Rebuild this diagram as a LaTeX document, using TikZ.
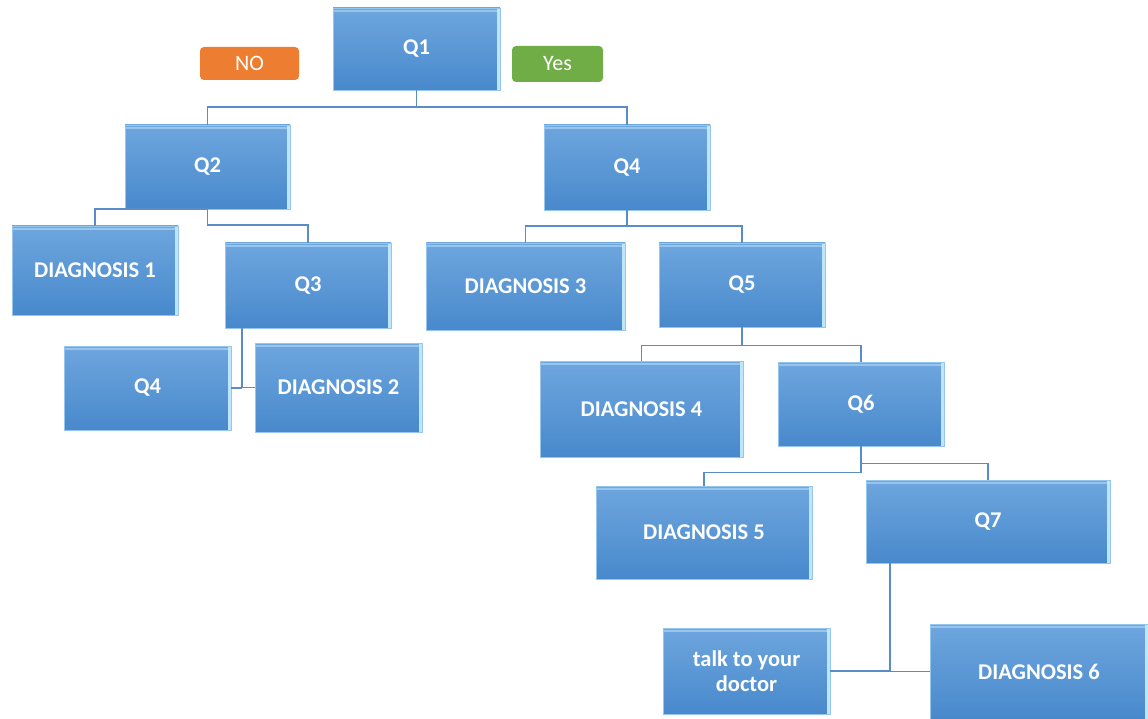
\documentclass[tikz,border=0pt]{standalone}
\usepackage{fontspec}
\setmainfont{Carlito}
\definecolor{boxtop}{RGB}{110,166,222}
\definecolor{boxbot}{RGB}{72,137,204}
\definecolor{boxedge}{RGB}{190,230,250}
\definecolor{boxline}{RGB}{150,198,238}
\definecolor{linkcol}{RGB}{88,141,200}
\definecolor{nocol}{RGB}{237,125,49}
\definecolor{yescol}{RGB}{112,173,71}
\begin{document}
\begin{tikzpicture}[x=1pt,y=-1pt,
  qbox/.style={rectangle,inner sep=0pt,top color=boxtop,bottom color=boxbot,
    draw=boxline,line width=0.6pt,text=white,
    font=\fontsize{22.5}{25}\selectfont\bfseries,align=center,
    path picture={
      \fill[boxedge] ([xshift=-3.5pt]path picture bounding box.north east) rectangle (path picture bounding box.south east);
      \draw[boxline,line width=1.6pt] ([yshift=-3pt]path picture bounding box.north west) -- ([yshift=-3pt,xshift=-3.5pt]path picture bounding box.north east);
    }},
  tag/.style={rectangle,rounded corners=4pt,inner sep=0pt,text=white,
    font=\fontsize{22}{24}\selectfont},
  link/.style={draw=linkcol,line width=1.6pt}]
\useasboundingbox (0,0) rectangle (1148,719);
% Drawing boxes
\node[qbox,minimum width=167pt,minimum height=82pt] (q1) at (416.5,49) {Q1};
\node[tag,fill=nocol,minimum width=99pt,minimum height=33pt] (no) at (249.5,63.5) {NO};
\node[tag,fill=yescol,minimum width=91pt,minimum height=36pt] (yes) at (557.5,64) {Yes};
% level 2
\node[qbox,minimum width=165pt,minimum height=84pt] (q2) at (207.5,167) {Q2};
\node[qbox,minimum width=166pt,minimum height=85pt] (q4b) at (627,167.5) {Q4};
% level 3
\node[qbox,minimum width=166pt,minimum height=89pt] (d1) at (95,270.5) {DIAGNOSIS 1};
\node[qbox,minimum width=166pt,minimum height=85pt] (q3) at (308,285.5) {Q3};
\node[qbox,minimum width=199pt,minimum height=87pt] (d3) at (525.5,286.5) {DIAGNOSIS 3};
\node[qbox,minimum width=166pt,minimum height=84pt] (q5) at (742,285) {Q5};
% level 4
\node[qbox,minimum width=167pt,minimum height=84pt] (q4a) at (147.5,388) {Q4};
\node[qbox,minimum width=167pt,minimum height=89pt] (d2) at (338.5,387.5) {DIAGNOSIS 2};
\node[qbox,minimum width=203pt,minimum height=96pt] (d4) at (641.5,409) {DIAGNOSIS 4};
\node[qbox,minimum width=166pt,minimum height=84pt] (q6) at (861,404) {Q6};
% level 5
\node[qbox,minimum width=216pt,minimum height=93pt] (d5) at (704,532.5) {DIAGNOSIS 5};
\node[qbox,minimum width=244pt,minimum height=83pt] (q7) at (988,521.5) {Q7};
% level 6
\node[qbox,minimum width=167pt,minimum height=86pt] (talk) at (746.5,671) {talk to your\\doctor};
\node[qbox,minimum width=218pt,minimum height=95pt] (d6) at (1039,671.5) {DIAGNOSIS 6};
% Done with boxes; drawing links
\draw[link] (q1.south) -- ++(0,17) -| (q2.north);
\draw[link] (q1.south) -- ++(0,17) -| (q4b.north);
\draw[link] (q2.south) -- ++(0,16) -| (q3.north);
\draw[link] (q2.south) -| (d1.north);
\draw[link] ([xshift=17pt]q3.south west) coordinate (j3) |- (d2.west);
\draw[link] (q4a.east) -- (q4a.east -| j3);
\draw[link] (q4b.south) -- ++(0,16) -| (d3.north);
\draw[link] (q4b.south) -- ++(0,16) -| (q5.north);
\draw[link] (q5.south) -- ++(0,18) -| (d4.north);
\draw[link] (q5.south) -- ++(0,18) -| (q6.north);
\draw[link] (q6.south) -- ++(0,17) -| (q7.north);
\draw[link] (q6.south) -- ++(0,26) -| (d5.north);
\draw[link] ([xshift=24pt]q7.south west) coordinate (j7) |- (d6.west);
\draw[link] (talk.east) -- (talk.east -| j7);
% Done with links
\end{tikzpicture}
\end{document}
